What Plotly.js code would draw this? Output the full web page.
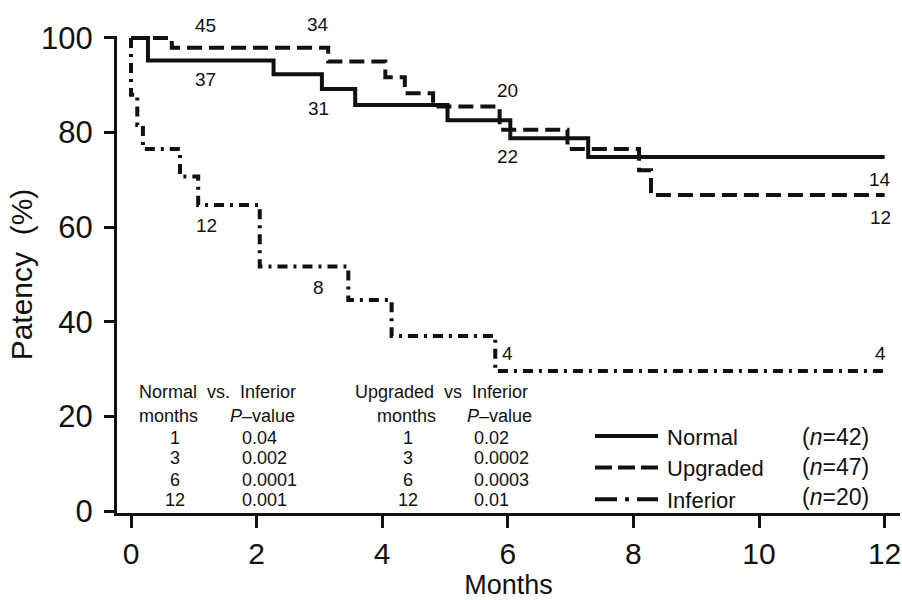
<!DOCTYPE html>
<html><head><meta charset="utf-8">
<script src="https://cdn.plot.ly/plotly-3.0.1.min.js"></script>
<style>html,body{margin:0;padding:0;background:#fff}#chart{width:902px;height:600px}</style>
</head><body><div id="chart"></div>
<script>
// Kaplan-Meier patency curves (months, % patency)
const normalMonths = [0, 0.27, 2.27, 3.04, 3.57, 5.04, 6.04, 7.28, 12.0];
const normalPatency = [100, 95.2, 92.3, 89.2, 85.8, 82.6, 78.8, 74.8, 74.8];
const upgradedMonths = [0, 0.65, 3.14, 4.05, 4.36, 4.81, 5.87, 6.95, 8.09, 8.28, 12.0];
const upgradedPatency = [100, 97.9, 95.0, 91.7, 88.3, 85.5, 80.6, 76.5, 72.0, 66.8, 66.8];
const inferiorMonths = [0, 0, 0.1, 0.19, 0.78, 1.07, 2.05, 3.46, 4.15, 5.8, 12.0];
const inferiorPatency = [100, 88, 81.6, 76.5, 70.7, 64.7, 51.7, 44.6, 37.0, 29.6, 29.6];

// numbers at risk
const atRiskText = ['45', '34', '37', '31', '20', '22', '14', '12', '12', '8', '4', '4'];
const atRiskMonth = [1.18, 2.98, 1.19, 2.98, 5.99, 5.99, 11.93, 11.93, 1.21, 2.99, 6.0, 11.93];
const atRiskPatency = [102.7, 102.8, 91.2, 85.0, 88.9, 75.0, 70.1, 62.1, 60.4, 47.3, 33.2, 33.2];

// group names and sizes
const groupNames = ['Normal', 'Upgraded', 'Inferior'];
const groupN = [42, 47, 20];

// P-value table
const pMonths = ['1', '3', '6', '12'];
const pNormalVsInferior = ['0.04', '0.002', '0.0001', '0.001'];
const pUpgradedVsInferior = ['0.02', '0.0002', '0.0003', '0.01'];

const xTicks = [0, 2, 4, 6, 8, 10, 12];
const yTicks = [0, 20, 40, 60, 80, 100];

const INK = '#111111';
const FONT = 'Liberation Sans, Arial, Helvetica, sans-serif';

const Y_RANGE = [-0.42, 100.4];
const MARGIN = {l: 117, r: 2, t: 36, b: 87};
const PX_PER_UNIT = (600 - MARGIN.t - MARGIN.b) / (Y_RANGE[1] - Y_RANGE[0]);

const traces = [
  {x: normalMonths, y: normalPatency, name: groupNames[0], mode: 'lines',
   line: {shape: 'hv', color: INK, width: 4, dash: 'solid'}},
  {x: upgradedMonths, y: upgradedPatency, name: groupNames[1], mode: 'lines',
   line: {shape: 'hv', color: INK, width: 4, dash: '15px,7px'}},
  {x: inferiorMonths, y: inferiorPatency, name: groupNames[2], mode: 'lines',
   line: {shape: 'hv', color: INK, width: 4, dash: '10px,6px,3px,6px'}}
];

const annotations = [];
atRiskText.forEach((t, i) => {
  // labels above the top of the axis range are anchored at 100 and shifted up
  const v = atRiskPatency[i];
  const anchorY = Math.min(v, 100);
  annotations.push({x: atRiskMonth[i], y: anchorY, yshift: (v - anchorY) * PX_PER_UNIT,
    xref: 'x', yref: 'y', text: t,
    showarrow: false, xanchor: 'center', yanchor: 'middle', font: {family: FONT, size: 19, color: INK}});
});
function addText(x, y, text, anchor) {
  annotations.push({x: x, y: y, xref: 'x', yref: 'y', text: text, showarrow: false,
    xanchor: anchor, yanchor: 'middle', font: {family: FONT, size: 18, color: INK}});
}
const rowY = [15.5, 11.3, 6.6, 2.4];
addText(0.096, 25.25, 'Normal&nbsp;&nbsp;vs.&nbsp;&nbsp;Inferior', 'left');
addText(0.096, 20.0, 'months', 'left');
addText(1.55, 20.0, '<i>P</i>\u2013value', 'left');
addText(3.54, 25.25, 'Upgraded&nbsp;&nbsp;vs&nbsp;&nbsp;Inferior', 'left');
addText(3.885, 20.0, 'months', 'left');
addText(5.32, 20.0, '<i>P</i>\u2013value', 'left');
pMonths.forEach((m, i) => {
  addText(0.70, rowY[i], m, 'center');
  addText(1.736, rowY[i], pNormalVsInferior[i], 'left');
  addText(4.416, rowY[i], m, 'center');
  addText(5.425, rowY[i], pUpgradedVsInferior[i], 'left');
});
const legendRowY = [15.6, 9.2, 2.9];
groupN.forEach((n, i) => {
  annotations.push({x: 10.65, y: legendRowY[i], xref: 'x', yref: 'y', text: '(<i>n</i>=' + n + ')',
    showarrow: false, xanchor: 'left', yanchor: 'middle', font: {family: FONT, size: 23, color: INK}});
});

const layout = {
  width: 902, height: 600,
  margin: MARGIN,
  paper_bgcolor: '#fff', plot_bgcolor: '#fff',
  font: {family: FONT, color: INK},
  showlegend: true,
  legend: {x: 0.6092, y: 0.205, xanchor: 'left', yanchor: 'top', bgcolor: 'rgba(0,0,0,0)',
    font: {family: FONT, size: 22, color: INK}, tracegroupgap: 0, itemwidth: 63},
  xaxis: {range: [-0.223, 12.245], tickvals: xTicks, ticktext: xTicks.map(String),
    ticks: 'outside', ticklen: 12, tickwidth: 3, tickcolor: INK, ticklabeloverflow: 'allow',
    showline: true, linewidth: 3, linecolor: INK, showgrid: false, zeroline: false,
    tickfont: {family: FONT, size: 30, color: INK},
    title: {text: 'Months', font: {family: FONT, size: 27, color: INK}, standoff: 1}},
  yaxis: {range: Y_RANGE, tickvals: yTicks, ticktext: yTicks.map(String),
    ticks: 'outside', ticklen: 10, tickwidth: 3, tickcolor: INK, ticklabelstandoff: 5,
    showline: true, linewidth: 3, linecolor: INK, showgrid: false, zeroline: false,
    tickfont: {family: FONT, size: 31, color: INK},
    title: {text: 'Patency&nbsp;&nbsp;(%)', font: {family: FONT, size: 30, color: INK}, standoff: 0}},
  annotations: annotations
};

const legendDash = ['none', '17px,6px', '22px,8px,4px,8px'];
Plotly.newPlot('chart', traces, layout, {staticPlot: true, displayModeBar: false}).then(gd => {
  // lengthen the legend line samples to match the reference key
  gd.querySelectorAll('.legend .traces').forEach((g, i) => {
    g.querySelectorAll('.legendlines path').forEach(p => {
      p.setAttribute('d', 'M1,0h63');
      if (legendDash[i] !== 'none') p.style.strokeDasharray = legendDash[i];
    });
  });
});
</script>
</body></html>
